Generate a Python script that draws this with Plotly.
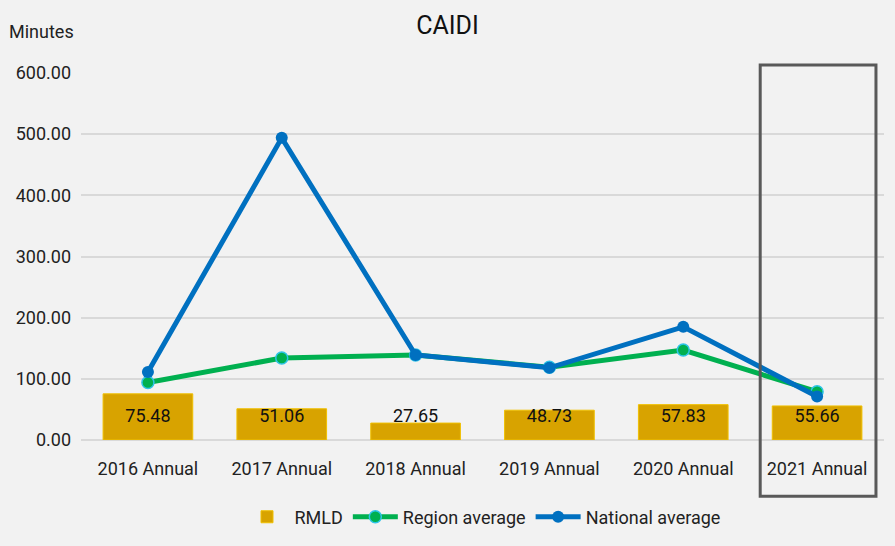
import plotly.graph_objects as go

years = ["2016 Annual", "2017 Annual", "2018 Annual", "2019 Annual", "2020 Annual", "2021 Annual"]
rmld = [75.48, 51.06, 27.65, 48.73, 57.83, 55.66]
region_avg = [94, 134, 139, 119, 147, 79]
national_avg = [111, 494, 139, 118, 185, 71]

FONT = "Liberation Sans Narrow, Arial Narrow, Roboto, sans-serif"
LABEL_Y = 36  # data labels sit on a common baseline inside the bars

fig = go.Figure()
fig.add_trace(go.Bar(
    x=years, y=rmld, name="RMLD",
    marker=dict(color="#d8a300", line=dict(color="#f0c000", width=1)),
    width=0.67,
))
fig.add_trace(go.Scatter(
    x=years, y=region_avg, name="Region average", mode="lines+markers",
    line=dict(color="#00b050", width=5),
    marker=dict(color="#00b050", size=12, line=dict(color="#2ec4e8", width=1.5)),
))
fig.add_trace(go.Scatter(
    x=years, y=national_avg, name="National average", mode="lines+markers",
    line=dict(color="#0070c0", width=5),
    marker=dict(color="#0070c0", size=12),
))
fig.add_trace(go.Scatter(
    x=years, y=[LABEL_Y] * len(years), mode="text",
    text=[f"{v:.2f}" for v in rmld], showlegend=False, hoverinfo="skip",
    textfont=dict(size=18, color="#111111", family=FONT),
))

# highlight box around the latest year
fig.add_shape(type="rect", xref="x", yref="paper",
              x0=4.575, x1=5.44, y0=-0.153, y1=1.022,
              line=dict(color="#595959", width=3), fillcolor="rgba(0,0,0,0)")

fig.add_annotation(text="Minutes", xref="paper", yref="paper", x=-0.092, y=1.112,
                   xanchor="left", yanchor="middle", showarrow=False,
                   font=dict(size=18, color="#222222", family=FONT))

fig.update_layout(
    title=dict(text="CAIDI", x=0.5, xanchor="center", y=0.954, yanchor="middle",
               font=dict(size=25, color="#111111", family=FONT)),
    width=895, height=546,
    margin=dict(l=81, r=11, t=73, b=106),
    paper_bgcolor="#f2f2f2", plot_bgcolor="#f2f2f2",
    font=dict(family=FONT, size=18, color="#222222"),
    bargap=0.33,
    legend=dict(orientation="h", x=0.5, xanchor="center", yref="container",
                y=0.053, yanchor="middle", font=dict(size=18), itemwidth=45,
                bgcolor="rgba(0,0,0,0)"),
    xaxis=dict(showgrid=False, showline=False, ticks="", tickfont=dict(size=18),
               ticklabelstandoff=16, automargin=False),
    yaxis=dict(range=[0, 600], dtick=100, tickformat=".2f", gridcolor="#d9d9d9",
               gridwidth=2, zeroline=True, zerolinecolor="#d9d9d9", zerolinewidth=2,
               tickfont=dict(size=18), ticksuffix="  ", automargin=False),
)

fig.write_html("out.html", config={"displayModeBar": False},
               post_script="document.body.style.margin='0';document.body.style.overflow='hidden';")
